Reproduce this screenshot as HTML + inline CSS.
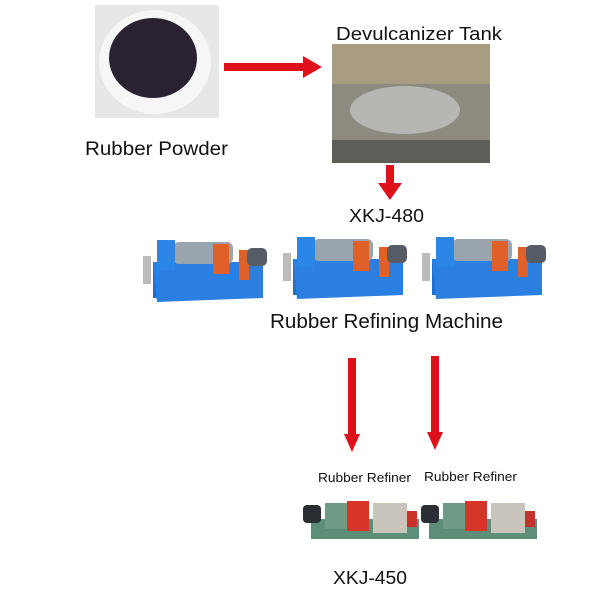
<!DOCTYPE html>
<html><head><style>body{margin:0;background:#fff}svg{display:block}text{font-family:"Liberation Sans",sans-serif;fill:#111}</style></head><body>
<svg width="600" height="600" viewBox="0 0 600 600" xmlns="http://www.w3.org/2000/svg">
<defs>
<g id="m1">
<rect x="10" y="30" width="110" height="36" fill="#1e6fd0"/>
<polygon points="10,30 120,30 120,66 14,70" fill="#2a7fe0"/>
<rect x="30" y="10" width="60" height="22" rx="6" fill="#9aa4ae"/>
<rect x="14" y="8" width="18" height="30" fill="#2b86e8"/>
<rect x="70" y="12" width="16" height="30" fill="#e0602a"/>
<rect x="96" y="18" width="10" height="30" fill="#e0602a"/>
<rect x="104" y="16" width="20" height="18" rx="5" fill="#555c66"/>
<rect x="0" y="24" width="8" height="28" fill="#bbb"/>
</g>
<g id="m2">
<rect x="8" y="22" width="108" height="20" fill="#5d8f78"/>
<rect x="0" y="8" width="18" height="18" rx="4" fill="#2b2f33"/>
<rect x="22" y="6" width="24" height="26" fill="#6e9a86"/>
<rect x="44" y="4" width="22" height="30" fill="#d8352a"/>
<rect x="70" y="6" width="34" height="30" fill="#c9c5bc"/>
<rect x="104" y="14" width="10" height="16" fill="#c8302a"/>
</g>
</defs>
<rect x="95" y="5" width="124" height="113" fill="#e8e6e6"/>
<ellipse cx="155" cy="62" rx="56" ry="52" fill="#f6f6f6"/>
<ellipse cx="153" cy="58" rx="44" ry="40" fill="#2a2230"/>
<rect x="332" y="44" width="158" height="119" fill="#8d8a80"/>
<rect x="332" y="44" width="158" height="40" fill="#a89d82"/>
<ellipse cx="405" cy="110" rx="55" ry="24" fill="#b7b6b2"/>
<rect x="332" y="140" width="158" height="23" fill="#5c5e58"/>
<rect x="224" y="63" width="82" height="8" fill="#e0101a"/>
<polygon points="303,56 322,67 303,78" fill="#e0101a"/>
<rect x="386" y="165" width="8" height="20" fill="#e0101a"/>
<polygon points="378,183 402,183 390,200" fill="#e0101a"/>
<rect x="348" y="358" width="8" height="78" fill="#e0101a"/>
<polygon points="344,434 360,434 352,452" fill="#e0101a"/>
<rect x="431" y="356" width="8" height="78" fill="#e0101a"/>
<polygon points="427,432 443,432 435,450" fill="#e0101a"/>
<text x="336" y="40" font-size="18" textLength="166" lengthAdjust="spacingAndGlyphs">Devulcanizer Tank</text>
<text x="85" y="155" font-size="19" textLength="143" lengthAdjust="spacingAndGlyphs">Rubber Powder</text>
<text x="349" y="222" font-size="18" textLength="75" lengthAdjust="spacingAndGlyphs">XKJ-480</text>
<use href="#m1" x="143" y="232"/><use href="#m1" x="283" y="229"/><use href="#m1" x="422" y="229"/>
<text x="270" y="328" font-size="20" textLength="233" lengthAdjust="spacingAndGlyphs">Rubber Refining Machine</text>
<text x="318" y="482" font-size="13" textLength="93" lengthAdjust="spacingAndGlyphs">Rubber Refiner</text>
<text x="424" y="481" font-size="13" textLength="93" lengthAdjust="spacingAndGlyphs">Rubber Refiner</text>
<use href="#m2" x="303" y="497"/><use href="#m2" x="421" y="497"/>
<text x="333" y="584" font-size="18" textLength="74" lengthAdjust="spacingAndGlyphs">XKJ-450</text>
</svg>
</body></html>
